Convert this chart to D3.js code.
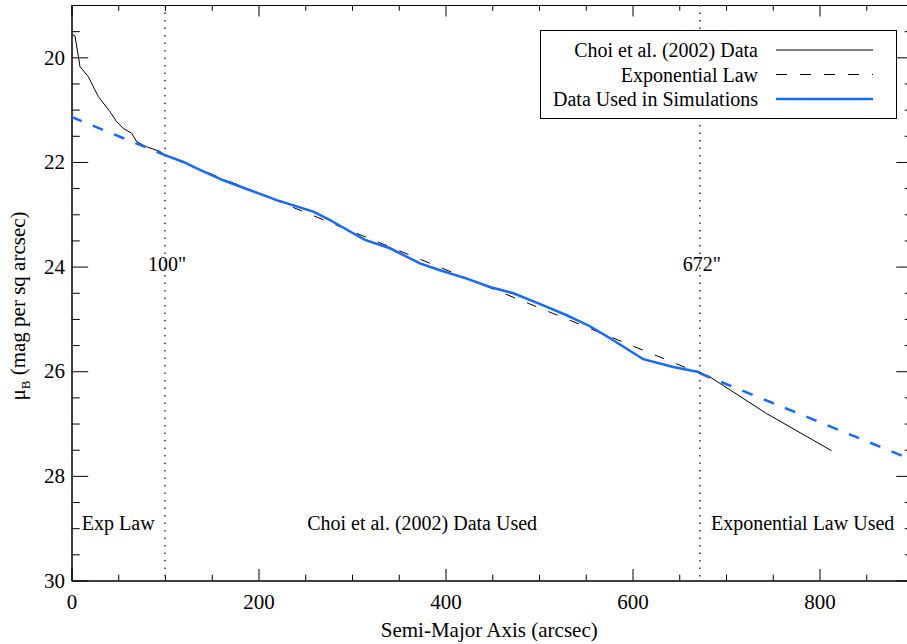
<!DOCTYPE html>
<html>
<head>
<meta charset="utf-8">
<script src="https://cdn.jsdelivr.net/npm/d3@7"></script>
<style>
  body { margin: 0; background: #fff; }
  svg { display: block; font-family: "Liberation Serif", "Times New Roman", serif; }
  text { font-family: "Liberation Serif", "Times New Roman", serif; }
  .axis path, .axis line { stroke: #000; stroke-width: 1; }
  .axis text { font-size: 21px; fill: #000; font-family: "Liberation Serif", serif; }
</style>
</head>
<body>
<div class="chart"></div>
<script>
// Choi et al. (2002) profile
const choiR  = [1.3, 3.7, 6.2, 9.1, 18, 23.3, 28.7, 41.2, 48.3, 55.4, 64.4, 69.7, 76.8, 80.4, 94.7,
                100, 119.6, 137.4, 162.4, 191, 219.5, 258.6, 276.5, 297.9, 313.9, 340.6, 372.7, 394.1,
                422.7, 447.6, 472.5, 504.6, 529.6, 554.5, 576, 611.5, 643.6, 672, 682.9, 743.5, 813];
const choiMu = [19.57, 19.59, 19.86, 20.18, 20.37, 20.56, 20.75, 21.04, 21.23, 21.36, 21.45, 21.61, 21.68, 21.71, 21.80,
                21.87, 22.0, 22.15, 22.35, 22.54, 22.73, 22.95, 23.11, 23.33, 23.49, 23.65, 23.94, 24.07,
                24.23, 24.39, 24.51, 24.74, 24.93, 25.14, 25.37, 25.77, 25.92, 26.02, 26.11, 26.81, 27.52];

// exponential law (straight line in magnitudes)
const expR  = [0, 100, 672, 900];
const expMu = [21.14, 21.87, 26.04, 27.70];

// cut radii
const cuts = [100, 672];
const cutLabels = ['100"', '672"'];

const regionLabels = ["Exp Law", "Choi et al. (2002) Data Used", "Exponential Law Used"];
const regionX = [50, 375, 782];

const xMajor = [0, 200, 400, 600, 800];
const yMajor = [20, 22, 24, 26, 28, 30];

const legendNames = ["Choi et al. (2002) Data", "Exponential Law", "Data Used in Simulations"];

const W = 907, H = 644;
const blue = "#1769ff";

let svg = d3.select('.chart').append('svg')
  .attr('width', W).attr('height', H);

let x = d3.scaleLinear().domain([0, 900]).range([71.5, 913]);
let y = d3.scaleLinear().domain([19, 30]).range([5, 580.5]);

let xMinor = d3.range(0, 901, 50).filter(v => v % 200 != 0);
let yMinor = d3.range(19, 30.01, 0.5).filter(v => v % 2 != 0);

// axes: bottom
svg.append('g').attr('class', 'axis')
  .attr('transform', `translate(0,${y(30)})`)
  .call(d3.axisBottom(x).tickValues(xMajor).tickFormat(d3.format('d'))
    .tickSizeInner(-11.5).tickSizeOuter(0).tickPadding(14));
svg.append('g').attr('class', 'axis')
  .attr('transform', `translate(0,${y(30)})`)
  .call(d3.axisBottom(x).tickValues(xMinor).tickFormat('').tickSizeInner(-5.8).tickSizeOuter(0));
// top
svg.append('g').attr('class', 'axis')
  .attr('transform', `translate(0,${y(19)})`)
  .call(d3.axisTop(x).tickValues(xMajor).tickFormat('').tickSizeInner(-11.5).tickSizeOuter(0));
svg.append('g').attr('class', 'axis')
  .attr('transform', `translate(0,${y(19)})`)
  .call(d3.axisTop(x).tickValues(xMinor).tickFormat('').tickSizeInner(-5.8).tickSizeOuter(0));
// left
svg.append('g').attr('class', 'axis')
  .attr('transform', `translate(${x(0)},0)`)
  .call(d3.axisLeft(y).tickValues(yMajor).tickFormat(d3.format('d'))
    .tickSizeInner(-16.7).tickSizeOuter(0).tickPadding(6.5));
svg.append('g').attr('class', 'axis')
  .attr('transform', `translate(${x(0)},0)`)
  .call(d3.axisLeft(y).tickValues(yMinor).tickFormat('').tickSizeInner(-8.3).tickSizeOuter(0));
// right
svg.append('g').attr('class', 'axis')
  .attr('transform', `translate(${x(900)},0)`)
  .call(d3.axisRight(y).tickValues(yMajor).tickFormat('').tickSizeInner(-16.7).tickSizeOuter(0));
svg.append('g').attr('class', 'axis')
  .attr('transform', `translate(${x(900)},0)`)
  .call(d3.axisRight(y).tickValues(yMinor).tickFormat('').tickSizeInner(-8.3).tickSizeOuter(0));

// axis titles
svg.append('text')
  .attr('x', (x(0) + 907) / 2).attr('y', 637)
  .attr('text-anchor', 'middle').style('font-size', '21px')
  .text('Semi-Major Axis (arcsec)');

let yt = svg.append('text')
  .attr('transform', 'translate(25,306) rotate(-90)')
  .attr('text-anchor', 'middle').style('font-size', '21px');
yt.append('tspan').text('\u03bc');
yt.append('tspan').attr('dy', 5).style('font-size', '13px').text('B');
yt.append('tspan').attr('dy', -5).text(' (mag per sq arcsec)');

// cut lines
svg.selectAll('.cut').data(cuts).enter().append('line')
  .attr('class', 'cut')
  .attr('x1', d => x(d)).attr('x2', d => x(d))
  .attr('y1', y(19)).attr('y2', y(30))
  .style('stroke', '#333').style('stroke-width', 1.5).style('stroke-dasharray', '1.5,6');

svg.selectAll('.cutlab').data(cuts).enter().append('text')
  .attr('class', 'cutlab')
  .attr('x', d => x(d) + 2).attr('y', y(24) + 4)
  .attr('text-anchor', 'middle').style('font-size', '20px')
  .text((d, i) => cutLabels[i]);

svg.selectAll('.reglab').data(regionX).enter().append('text')
  .attr('class', 'reglab')
  .attr('x', d => x(d)).attr('y', 530)
  .attr('text-anchor', 'middle').style('font-size', '20px')
  .text((d, i) => regionLabels[i]);

let line = d3.line().x(d => x(d[0])).y(d => y(d[1]));
let choi = choiR.map((r, i) => [r, choiMu[i]]);
let expPts = expR.map((r, i) => [r, expMu[i]]);
let simData = choi.filter(d => d[0] >= cuts[0] && d[0] <= cuts[1]);

// data
svg.append('path').datum(choi).attr('d', line)
  .style('fill', 'none').style('stroke', '#000').style('stroke-width', 1);
svg.append('path').datum(expPts.slice(1, 3)).attr('d', line)
  .style('fill', 'none').style('stroke', '#000').style('stroke-width', 1)
  .style('stroke-dasharray', '10,13');
svg.append('path').datum(simData).attr('d', line)
  .style('fill', 'none').style('stroke', blue).style('stroke-width', 2.5);
svg.append('path').datum(expPts.slice(0, 2)).attr('d', line)
  .style('fill', 'none').style('stroke', blue).style('stroke-width', 2.5)
  .style('stroke-dasharray', '11,12');
svg.append('path').datum(expPts.slice(2)).attr('d', line)
  .style('fill', 'none').style('stroke', blue).style('stroke-width', 2.5)
  .style('stroke-dasharray', '11,12');

// legend
let leg = svg.append('g');
leg.append('rect')
  .attr('x', 540.5).attr('y', 30.5).attr('width', 356).attr('height', 88)
  .style('fill', '#fff').style('stroke', '#000').style('stroke-width', 1);
let legStyles = [
  { stroke: '#000', width: 1, dash: null },
  { stroke: '#000', width: 1, dash: '11,13' },
  { stroke: blue, width: 2.5, dash: null }
];
legendNames.forEach((name, i) => {
  let cy = 50 + i * 24.5;
  leg.append('text').attr('x', 758).attr('y', cy + 7)
    .attr('text-anchor', 'end').style('font-size', '20px').text(name);
  leg.append('line').attr('x1', 776).attr('x2', 873).attr('y1', cy).attr('y2', cy)
    .style('stroke', legStyles[i].stroke).style('stroke-width', legStyles[i].width)
    .style('stroke-dasharray', legStyles[i].dash);
});
</script>
</body>
</html>
